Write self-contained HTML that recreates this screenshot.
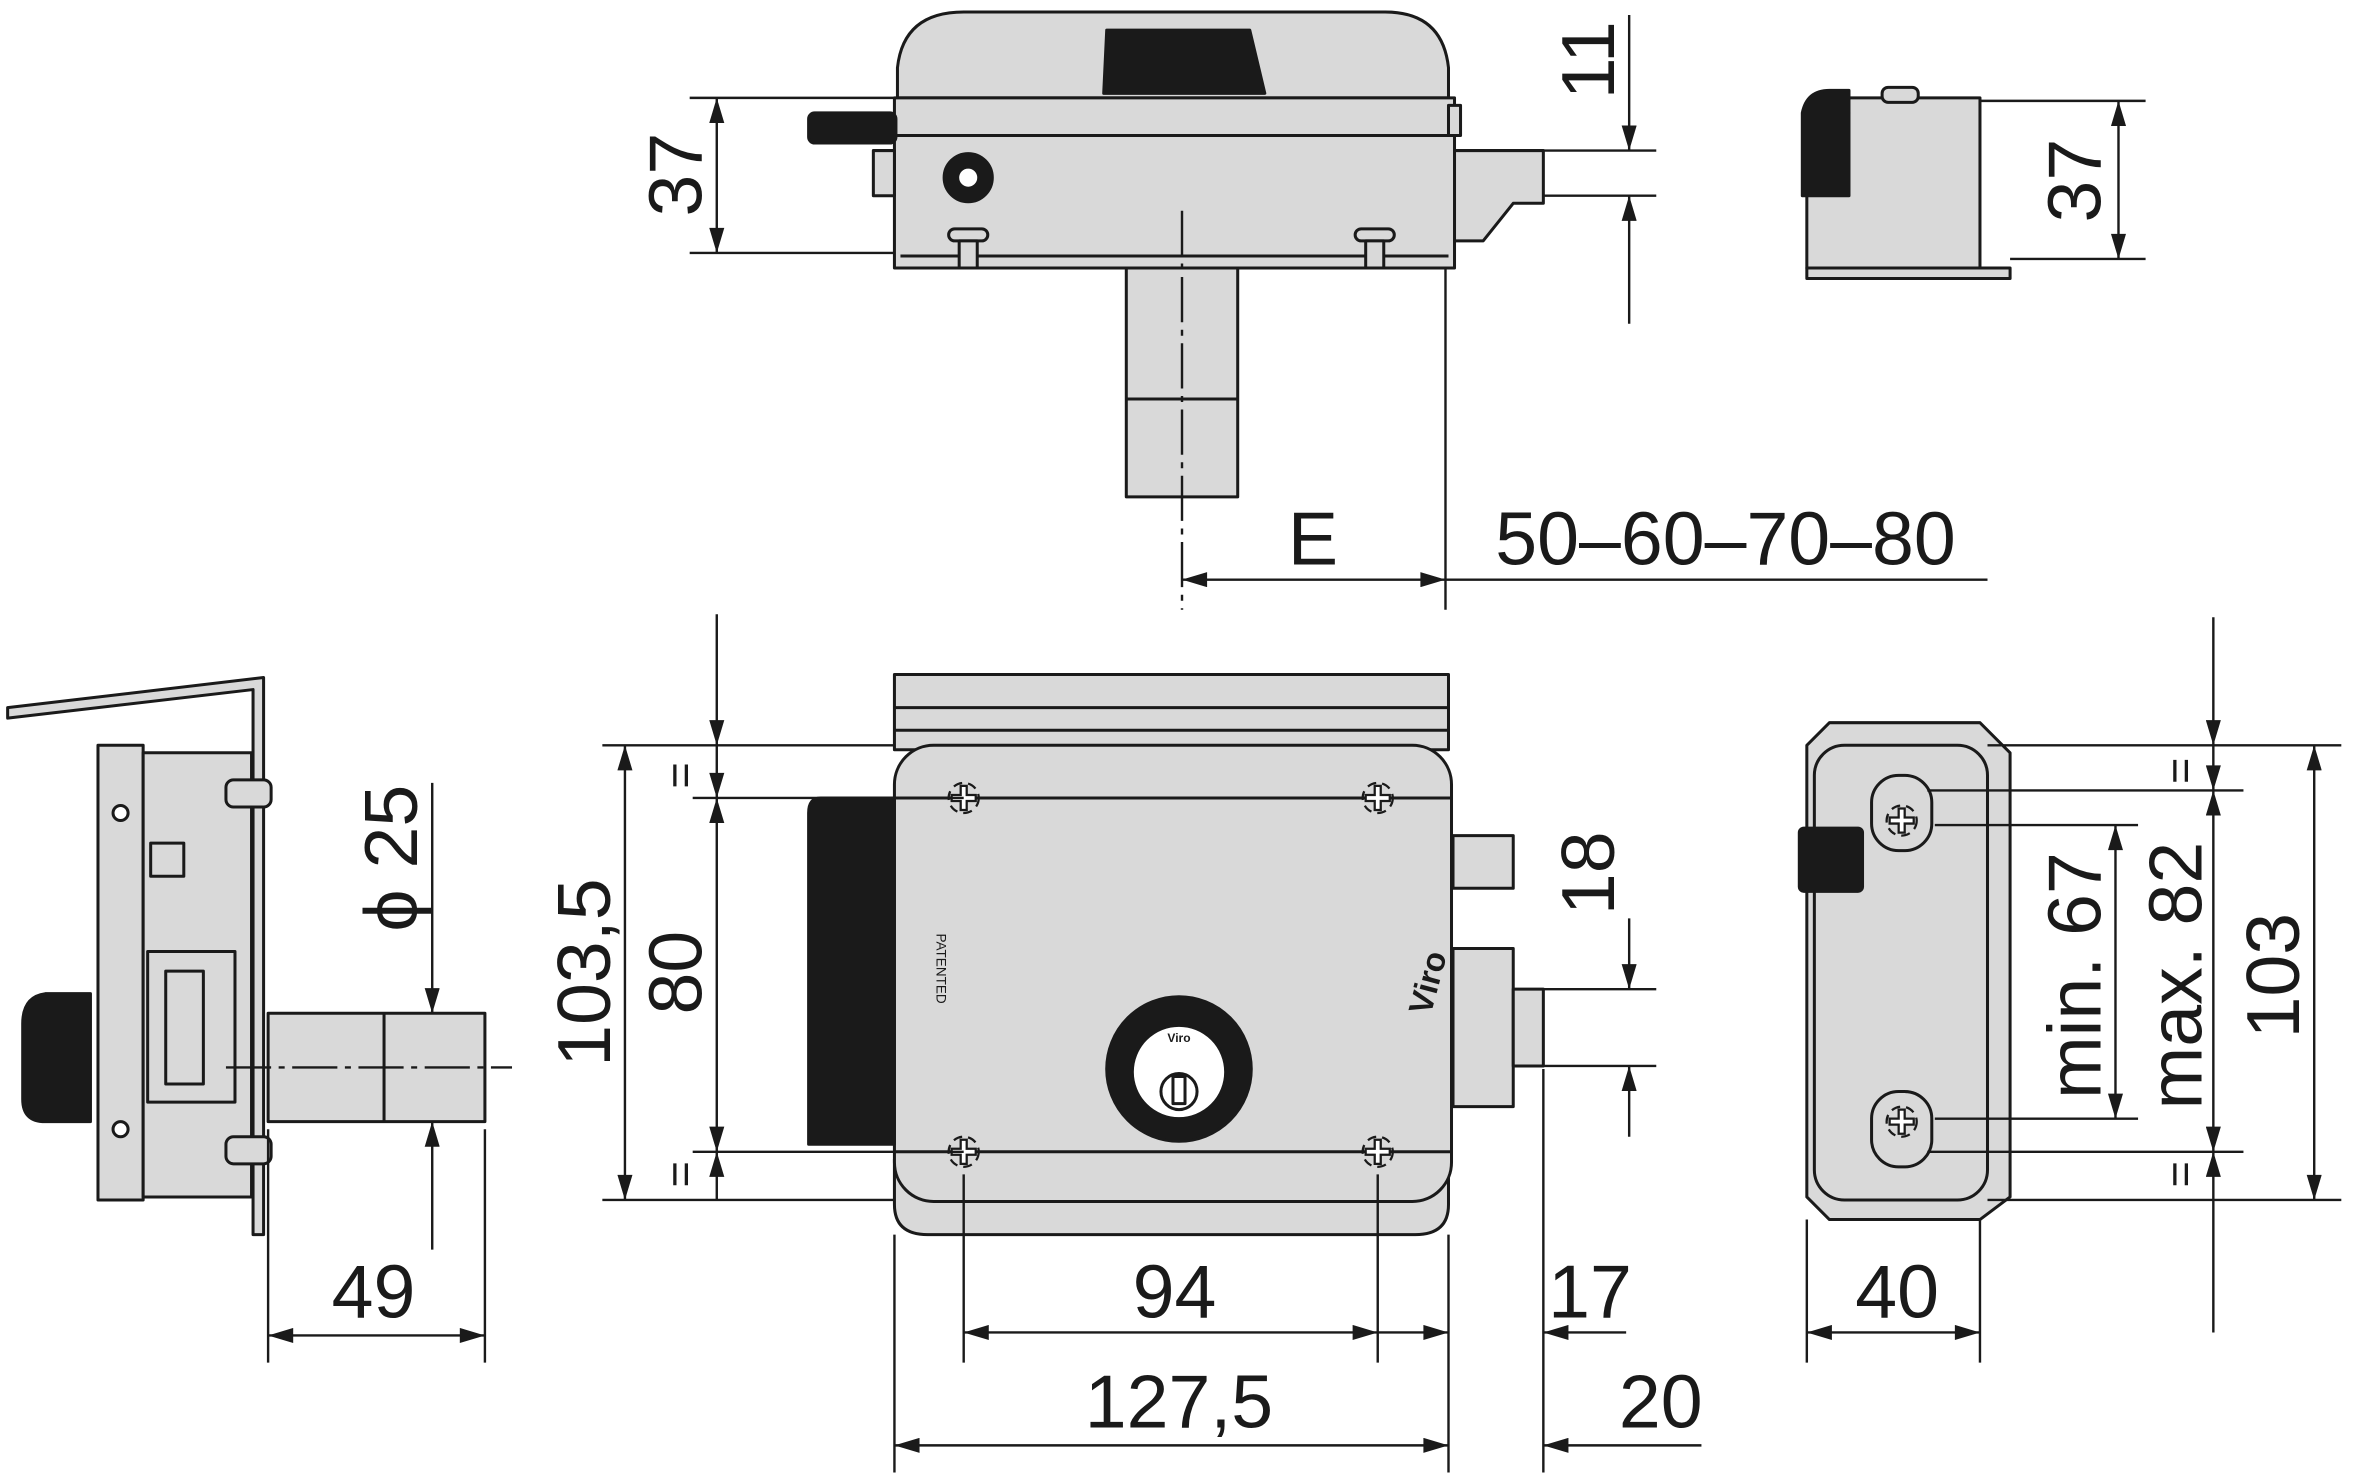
<!DOCTYPE html>
<html><head><meta charset="utf-8"><style>
html,body{margin:0;padding:0;background:#fff;}
svg{display:block;}
text{font-family:"Liberation Sans",sans-serif;fill:#1a1a1a;}
</style></head><body>
<svg width="2361" height="1480" viewBox="0 0 1568 983" xmlns="http://www.w3.org/2000/svg">
<defs>
<marker id="a" viewBox="0 0 10 6" refX="10" refY="3" markerWidth="22" markerHeight="10" markerUnits="userSpaceOnUse" orient="auto-start-reverse"><path d="M0,0 L10,3 L0,6 z" fill="#1a1a1a"/></marker>
<g id="scr"><circle r="10" fill="none" stroke="#1a1a1a" stroke-width="1.5" stroke-dasharray="6 4"/><path d="M-2,-8 L2,-8 L2,-2 L8,-2 L8,2 L2,2 L2,8 L-2,8 L-2,2 L-8,2 L-8,-2 L-2,-2 z" fill="#fff" stroke="#1a1a1a" stroke-width="1.5"/></g>
</defs>
<g stroke="#1a1a1a" stroke-width="2" fill="#d9d9d9" stroke-linejoin="round">
<!-- TOP VIEW -->
<path d="M596,65 L596,45 Q600,8 640,8 L920,8 Q958,8 962,45 L962,65 z"/>
<rect x="748" y="178" width="74" height="152"/>
<line x1="748" y1="265" x2="822" y2="265"/>
<path d="M962,100 L1025,100 L1025,135 L1005,135 L985,160 L962,160 z"/>
<rect x="594" y="65" width="372" height="113"/>
<line x1="594" y1="90" x2="966" y2="90"/>
<line x1="598" y1="170" x2="962" y2="170"/>
<rect x="580" y="100" width="14" height="30"/>
<rect x="962" y="70" width="8" height="20"/>
<path d="M735,20 L830,20 L840,62 L733,62 z" fill="#1a1a1a"/>
<rect x="537" y="75" width="58" height="20" rx="4" fill="#1a1a1a"/>
<circle cx="643" cy="118" r="16" fill="#1a1a1a"/><circle cx="643" cy="118" r="7" fill="#fff"/>
<rect x="630" y="152" width="26" height="8" rx="4"/><rect x="637" y="160" width="12" height="18"/>
<rect x="900" y="152" width="26" height="8" rx="4"/><rect x="907" y="160" width="12" height="18"/>
<!-- TOP RIGHT SIDE -->
<rect x="1200" y="178" width="135" height="7"/>
<path d="M1200,178 L1200,80 Q1205,65 1225,65 L1315,65 L1315,178 z"/>
<path d="M1197,75 Q1200,60 1215,60 L1228,60 L1228,130 L1197,130 z" fill="#1a1a1a"/>
<rect x="1250" y="58" width="24" height="10" rx="4"/>
<!-- LEFT SIDE VIEW -->
<path d="M5,470 L175,450 L175,820 L168,820 L168,458 L5,477 z"/>
<rect x="65" y="495" width="30" height="302"/>
<rect x="95" y="500" width="72" height="295"/>
<rect x="178" y="673" width="144" height="72"/>
<line x1="255" y1="673" x2="255" y2="745"/>
<path d="M60,660 L30,660 Q15,662 15,680 L15,730 Q15,745 30,745 L60,745 z" fill="#1a1a1a"/>
<rect x="98" y="632" width="58" height="100" fill="#d9d9d9"/>
<rect x="110" y="645" width="25" height="75"/>
<rect x="100" y="560" width="22" height="22"/>
<rect x="150" y="518" width="30" height="18" rx="5"/><rect x="150" y="755" width="30" height="18" rx="5"/>
<circle cx="80" cy="540" r="5" fill="#fff"/><circle cx="80" cy="750" r="5" fill="#fff"/>
<!-- FRONT VIEW -->
<rect x="594" y="448" width="368" height="50"/>
<line x1="594" y1="470" x2="962" y2="470"/><line x1="594" y1="485" x2="962" y2="485"/>
<path d="M594,770 L962,770 L962,800 Q962,820 940,820 L616,820 Q594,820 594,800 z"/>
<rect x="965" y="555" width="40" height="35"/>
<rect x="965" y="630" width="40" height="105"/>
<rect x="1005" y="657" width="20" height="51"/>
<rect x="594" y="495" width="370" height="303" rx="26"/>
<line x1="594" y1="530" x2="964" y2="530"/>
<line x1="594" y1="765" x2="964" y2="765"/>
<path d="M594,530 L545,530 Q537,530 537,540 L537,760 L594,760 z" fill="#1a1a1a"/>
<circle cx="783" cy="710" r="48" fill="#1a1a1a"/>
<circle cx="783" cy="712" r="31" fill="#fff"/>
<circle cx="783" cy="725" r="12" fill="#fff"/>
<rect x="779" y="715" width="8" height="18" fill="#fff"/>
<!-- RIGHT VIEW -->
<path d="M1215,480 L1315,480 L1335,500 L1335,795 L1315,810 L1215,810 L1200,795 L1200,495 z"/>
<rect x="1205" y="495" width="115" height="302" rx="20"/>
<rect x="1243" y="515" width="40" height="50" rx="18" fill="#d9d9d9"/>
<rect x="1243" y="725" width="40" height="50" rx="18" fill="#d9d9d9"/>
<rect x="1195" y="550" width="42" height="42" rx="3" fill="#1a1a1a"/>
</g>
<use href="#scr" x="640" y="530"/><use href="#scr" x="915" y="530"/>
<use href="#scr" x="640" y="765"/><use href="#scr" x="915" y="765"/>
<use href="#scr" x="1263" y="545"/><use href="#scr" x="1263" y="745"/>
<text x="0" y="0" font-size="9" transform="translate(622,620) rotate(90)">PATENTED</text>
<text x="0" y="0" font-size="22" font-weight="bold" transform="translate(950,675) rotate(-75)">Viro</text>
<text x="783" y="692" font-size="8" text-anchor="middle" font-weight="bold">Viro</text>

<!-- DIMENSIONS -->
<g stroke="#1a1a1a" stroke-width="1.6" fill="none">
<!-- centerlines -->
<line x1="785" y1="140" x2="785" y2="405" stroke-dasharray="30 5 4 5"/>
<line x1="150" y1="709" x2="340" y2="709" stroke-dasharray="30 5 4 5"/>
<line x1="640" y1="780" x2="640" y2="905"/><line x1="915" y1="780" x2="915" y2="905"/>
<!-- top 37 -->
<line x1="458" y1="65" x2="594" y2="65"/><line x1="458" y1="168" x2="594" y2="168"/>
<line x1="476" y1="65" x2="476" y2="168" marker-start="url(#a)" marker-end="url(#a)"/>
<!-- 11 -->
<line x1="1025" y1="100" x2="1100" y2="100"/><line x1="1025" y1="130" x2="1100" y2="130"/>
<line x1="1082" y1="10" x2="1082" y2="100" marker-end="url(#a)"/>
<line x1="1082" y1="215" x2="1082" y2="130" marker-end="url(#a)"/>
<!-- E -->
<line x1="960" y1="178" x2="960" y2="405"/>
<line x1="785" y1="385" x2="960" y2="385" marker-start="url(#a)" marker-end="url(#a)"/>
<line x1="960" y1="385" x2="1320" y2="385"/>
<!-- top right 37 -->
<line x1="1315" y1="67" x2="1425" y2="67"/><line x1="1335" y1="172" x2="1425" y2="172"/>
<line x1="1407" y1="67" x2="1407" y2="172" marker-start="url(#a)" marker-end="url(#a)"/>
<!-- phi25 -->
<line x1="287" y1="520" x2="287" y2="673" marker-end="url(#a)"/>
<line x1="287" y1="830" x2="287" y2="745" marker-end="url(#a)"/>
<!-- 49 -->
<line x1="178" y1="750" x2="178" y2="905"/><line x1="322" y1="750" x2="322" y2="905"/>
<line x1="178" y1="887" x2="322" y2="887" marker-start="url(#a)" marker-end="url(#a)"/>
<!-- front verticals -->
<line x1="400" y1="495" x2="594" y2="495"/><line x1="400" y1="797" x2="594" y2="797"/>
<line x1="460" y1="530" x2="640" y2="530"/><line x1="460" y1="765" x2="640" y2="765"/>
<line x1="415" y1="495" x2="415" y2="797" marker-start="url(#a)" marker-end="url(#a)"/>
<line x1="476" y1="408" x2="476" y2="495" marker-end="url(#a)"/>
<line x1="476" y1="495" x2="476" y2="530" marker-end="url(#a)"/>
<line x1="476" y1="530" x2="476" y2="765" marker-start="url(#a)" marker-end="url(#a)"/>
<line x1="476" y1="797" x2="476" y2="765" marker-end="url(#a)"/>
<!-- 18 -->
<line x1="1025" y1="657" x2="1100" y2="657"/><line x1="1025" y1="708" x2="1100" y2="708"/>
<line x1="1082" y1="610" x2="1082" y2="657" marker-end="url(#a)"/>
<line x1="1082" y1="755" x2="1082" y2="708" marker-end="url(#a)"/>
<!-- bottom dims -->
<line x1="594" y1="820" x2="594" y2="978"/><line x1="962" y1="820" x2="962" y2="978"/>
<line x1="1025" y1="710" x2="1025" y2="978"/>
<line x1="640" y1="885" x2="915" y2="885" marker-start="url(#a)" marker-end="url(#a)"/>
<line x1="915" y1="885" x2="962" y2="885" marker-end="url(#a)"/>
<line x1="1080" y1="885" x2="1025" y2="885" marker-end="url(#a)"/>
<line x1="594" y1="960" x2="962" y2="960" marker-start="url(#a)" marker-end="url(#a)"/>
<line x1="1130" y1="960" x2="1025" y2="960" marker-end="url(#a)"/>
<!-- right view dims -->
<line x1="1320" y1="495" x2="1555" y2="495"/><line x1="1320" y1="797" x2="1555" y2="797"/>
<line x1="1280" y1="525" x2="1490" y2="525"/><line x1="1280" y1="765" x2="1490" y2="765"/>
<line x1="1285" y1="548" x2="1420" y2="548"/><line x1="1285" y1="743" x2="1420" y2="743"/>
<line x1="1470" y1="410" x2="1470" y2="495" marker-end="url(#a)"/>
<line x1="1470" y1="495" x2="1470" y2="525" marker-end="url(#a)"/>
<line x1="1470" y1="525" x2="1470" y2="765" marker-start="url(#a)" marker-end="url(#a)"/>
<line x1="1470" y1="797" x2="1470" y2="765" marker-end="url(#a)"/>
<line x1="1470" y1="797" x2="1470" y2="885"/>
<line x1="1405" y1="548" x2="1405" y2="743" marker-start="url(#a)" marker-end="url(#a)"/>
<line x1="1537" y1="495" x2="1537" y2="797" marker-start="url(#a)" marker-end="url(#a)"/>
<line x1="1200" y1="810" x2="1200" y2="905"/><line x1="1315" y1="810" x2="1315" y2="905"/>
<line x1="1200" y1="885" x2="1315" y2="885" marker-start="url(#a)" marker-end="url(#a)"/>
</g>
<g font-size="50">
<text transform="translate(466,116) rotate(-90)" text-anchor="middle">37</text>
<text transform="translate(1072,40) rotate(-90)" text-anchor="middle">11</text>
<text x="872" y="375" text-anchor="middle">E</text>
<text x="1146" y="375" text-anchor="middle">50–60–70–80</text>
<text transform="translate(1395,120) rotate(-90)" text-anchor="middle">37</text>
<text transform="translate(277,570) rotate(-90)" text-anchor="middle">ϕ 25</text>
<text x="248" y="875" text-anchor="middle">49</text>
<text transform="translate(405,646) rotate(-90)" text-anchor="middle">103,5</text>
<text transform="translate(466,646) rotate(-90)" text-anchor="middle">80</text>
<text transform="translate(1072,580) rotate(-90)" text-anchor="middle">18</text>
<text x="780" y="875" text-anchor="middle">94</text>
<text x="1056" y="875" text-anchor="middle">17</text>
<text x="783" y="948" text-anchor="middle">127,5</text>
<text x="1103" y="948" text-anchor="middle">20</text>
<text x="1260" y="875" text-anchor="middle">40</text>
<text transform="translate(1395,648) rotate(-90)" text-anchor="middle">min. 67</text>
<text transform="translate(1462,648) rotate(-90)" text-anchor="middle">max. 82</text>
<text transform="translate(1527,648) rotate(-90)" text-anchor="middle">103</text>
</g>
<g font-size="30">
<text transform="translate(462,515) rotate(-90)" text-anchor="middle">=</text>
<text transform="translate(462,780) rotate(-90)" text-anchor="middle">=</text>
<text transform="translate(1458,512) rotate(-90)" text-anchor="middle">=</text>
<text transform="translate(1458,780) rotate(-90)" text-anchor="middle">=</text>
</g>
</svg>
</body></html>
